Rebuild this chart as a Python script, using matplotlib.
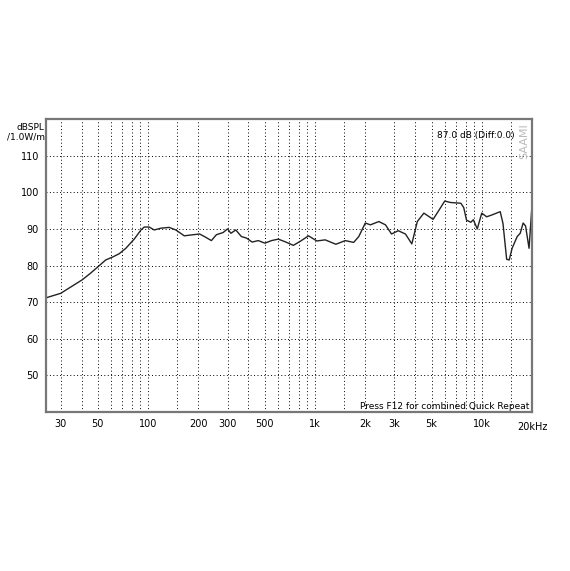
import matplotlib
matplotlib.use("Agg")
import matplotlib.pyplot as plt

# frequency response (Hz, dB SPL)
freq = [24.3, 25, 30, 34.4, 40.4, 45.3, 50.9, 55.8, 61.3, 67.2, 73.7, 82.7, 90.8, 95,
        101.8, 109, 120, 134, 147, 165, 186, 204, 218, 240, 257, 282, 300, 314, 336,
        363, 389, 421, 458, 502, 550, 604, 662, 744, 830, 916, 1028, 1153, 1336, 1522,
        1708, 1833, 2006, 2152, 2417, 2650, 2880, 3160, 3490, 3810, 4110, 4500, 5110,
        5560, 6000, 6500, 7500, 7800, 8100, 8600, 8900, 9400, 10000, 10700, 11500,
        12900, 13400, 14100, 14600, 15200, 16300, 17000, 17700, 18300, 19200, 20000]
spl = [71.0, 71.3, 72.4, 74.1, 76.1, 77.9, 79.9, 81.5, 82.3, 83.2, 84.7, 87.2, 89.7, 90.5,
       90.5, 89.7, 90.2, 90.4, 89.7, 88.1, 88.4, 88.6, 87.9, 86.8, 88.4, 89.0, 90.0, 88.8, 89.7,
       87.9, 87.5, 86.4, 86.8, 86.1, 86.8, 87.2, 86.5, 85.5, 86.8, 88.1, 86.7, 87.0, 85.8, 86.8,
       86.3, 87.9, 91.6, 91.1, 92.0, 91.1, 88.6, 89.5, 88.6, 85.9, 92.0, 94.3, 92.6,
       95.2, 97.6, 97.2, 97.0, 95.8, 92.4, 91.8, 92.5, 90.0, 94.3, 93.3, 93.8,
       94.7, 91.5, 81.7, 81.5, 84.7, 87.9, 88.8, 91.6, 90.8, 84.7, 96.5]

grid_freqs = [30, 40, 50, 60, 70, 80, 90, 100, 150, 200, 300, 400, 500, 600, 700, 800,
              900, 1000, 1500, 2000, 3000, 4000, 5000, 6000, 7000, 8000, 9000, 10000, 15000]
x_labels = {30: "30", 50: "50", 100: "100", 200: "200", 300: "300", 500: "500",
            1000: "1k", 2000: "2k", 3000: "3k", 5000: "5k", 10000: "10k"}
y_ticks = [50, 60, 70, 80, 90, 100, 110]

fig = plt.figure(figsize=(5.70, 5.71), dpi=100)
ax = fig.add_axes([46 / 570, 159 / 571, 486 / 570, 293 / 571])

ax.semilogx(freq, spl, color="#222222", lw=1.0)
ax.set_xlim(24.5, 20000)
ax.set_ylim(40, 120)

ax.set_xticks(grid_freqs)
ax.set_xticklabels([x_labels.get(f, "") for f in grid_freqs])
ax.xaxis.set_minor_locator(matplotlib.ticker.NullLocator())
ax.set_yticks(y_ticks)
ax.set_yticklabels([str(v) for v in y_ticks])
ax.tick_params(length=0, labelsize=7, pad=5)
ax.grid(True, color="black", lw=0.7, linestyle=(0, (1, 2.5)))

for s in ax.spines.values():
    s.set_color("#777777")
    s.set_linewidth(1.6)

# 20kHz label at the right edge
ax.text(20000, -0.035, "20kHz", transform=ax.get_xaxis_transform(),
        ha="center", va="top", fontsize=7)

ax.text(-0.003, 0.985, "dBSPL\n/1.0W/m", transform=ax.transAxes,
        ha="right", va="top", fontsize=6.5, linespacing=1.0)
ax.text(0.965, 0.96, "87.0 dB (Diff:0.0)", transform=ax.transAxes,
        ha="right", va="top", fontsize=6.5)
ax.text(0.995, 0.005, "Press F12 for combined Quick Repeat", transform=ax.transAxes,
        ha="right", va="bottom", fontsize=6.5)
ax.text(0.985, 0.985, "SAAMI", transform=ax.transAxes, rotation=90,
        ha="center", va="top", fontsize=8, color="#bbbbbb")

plt.savefig("out.png", dpi=100)
